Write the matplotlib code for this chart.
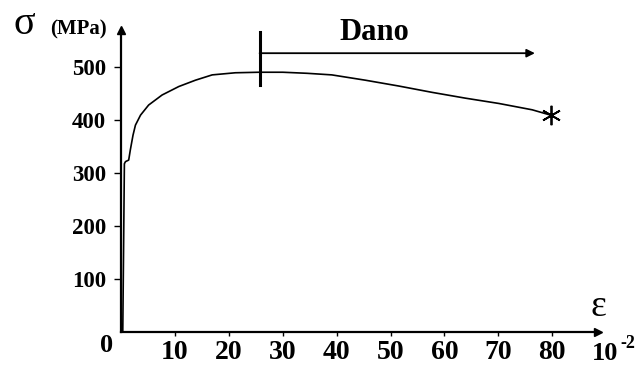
import matplotlib
matplotlib.use("Agg")
import matplotlib.pyplot as plt

# ---- data ----
strain = [0.3, 0.6, 0.8, 1.4, 1.7, 2.2, 2.65, 3.6, 5.1, 7.6, 10.7, 13.8, 16.9,
          21.2, 25.6, 30.0, 34.5, 39.1, 45.3, 51.5, 57.7, 63.9, 70.1, 76.3, 79.7]
stress = [0, 318, 322, 325, 344, 372, 391, 410, 429, 448, 464, 476, 486,
          490, 491, 491, 489, 486, 476, 465, 453, 442, 432, 420, 410]
x_ticks = [10, 20, 30, 40, 50, 60, 70, 80]
y_ticks = [100, 200, 300, 400, 500]
damage_start = 25.7
damage_end = 76.8
damage_level = 527
damage_bar = (467, 567)
damage_label = "Dano"

SERIF = "Liberation Serif"

fig = plt.figure(figsize=(6.39, 3.65), dpi=100)
ax = fig.add_axes([119 / 639, 33 / 365, 480 / 639, 304.2 / 365])
ax.set_xlim(-0.4, 88.7)
ax.set_ylim(0, 575)

for s in ["top", "right"]:
    ax.spines[s].set_visible(False)
ax.spines["left"].set_position(("data", 0))
ax.spines["bottom"].set_position(("data", 0))
ax.spines["left"].set_bounds(0, 566)
ax.spines["bottom"].set_bounds(0, 88)
for s in ["left", "bottom"]:
    ax.spines[s].set_linewidth(1.6)

# axis arrowheads
ax.plot([0], [571], marker="^", color="black", markersize=6, clip_on=False)
ax.plot([88.5], [0], marker=">", color="black", markersize=6, clip_on=False)

ax.set_xticks(x_ticks)
ax.set_xticklabels([str(v) for v in x_ticks], fontfamily=SERIF,
                   fontweight="bold", fontsize=20)
ax.set_yticks(y_ticks)
ax.set_yticklabels([str(v) for v in y_ticks], fontfamily=SERIF,
                   fontweight="bold", fontsize=16.5)
ax.tick_params(axis="x", direction="out", length=3, width=1, pad=3)
ax.tick_params(axis="y", direction="out", length=5, width=1, pad=6)

# curve
ax.plot(strain, stress, color="black", linewidth=1.2, clip_on=False)
ax.plot([strain[-1]], [stress[-1]], marker=(6, 2, 0), color="black",
        markersize=14, markeredgewidth=1.3, clip_on=False)

# damage marker
ax.plot([damage_start, damage_start], list(damage_bar), color="black",
        linewidth=2.2, clip_on=False)
ax.annotate("", xy=(damage_end, damage_level), xytext=(damage_start, damage_level),
            arrowprops=dict(arrowstyle="-|>", color="black", lw=1.3,
                            mutation_scale=12, shrinkA=0, shrinkB=0),
            annotation_clip=False)
ax.text((damage_start + damage_end) / 2 - 4.2, 566, damage_label,
        fontfamily=SERIF, fontweight="bold", fontsize=22,
        ha="center", va="center")

# axis labels
fig.text(24 / 639, 1 - 25 / 365, "σ", fontfamily=SERIF, fontsize=29,
         ha="center", va="center")
fig.text(78 / 639, 1 - 29 / 365, "(MPa)", fontfamily=SERIF, fontweight="bold",
         fontsize=15, ha="center", va="center")
fig.text(598 / 639, 1 - 307 / 365, "ε", fontfamily=SERIF, fontsize=27,
         ha="center", va="center")
fig.text(107 / 639, 1 - 346 / 365, "0", fontfamily=SERIF, fontweight="bold",
         fontsize=19, ha="center", va="center")
fig.text(605 / 639, 1 - 354 / 365, "10", fontfamily=SERIF, fontweight="bold",
         fontsize=19, ha="center", va="center")
fig.text(628 / 639, 1 - 344 / 365, "-2", fontfamily=SERIF, fontweight="bold",
         fontsize=13, ha="center", va="center")

fig.savefig("out.png", dpi=100, facecolor="white")
